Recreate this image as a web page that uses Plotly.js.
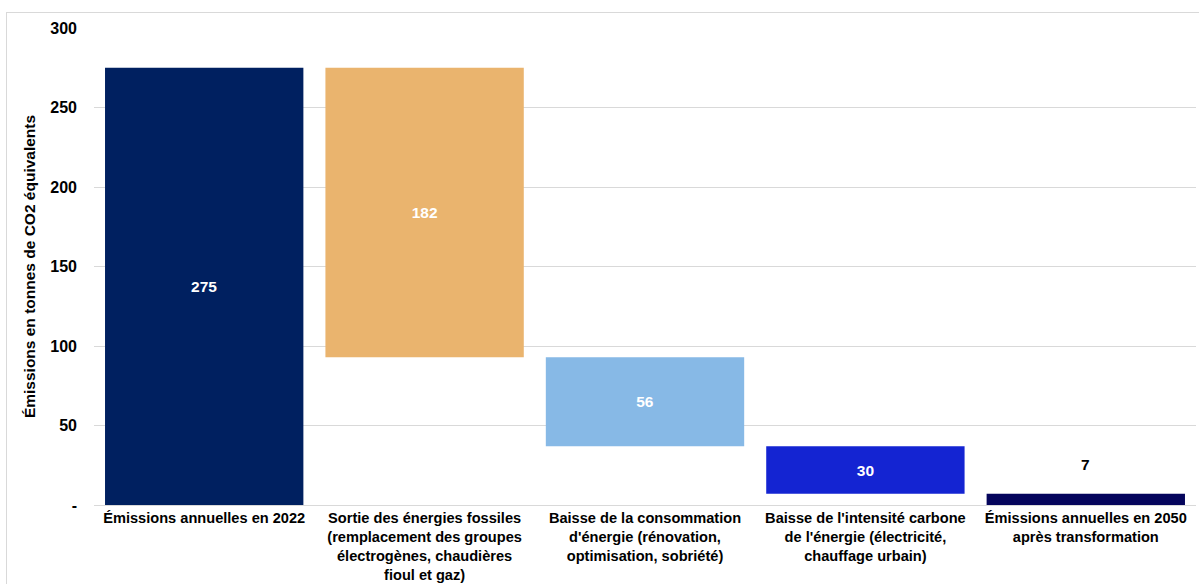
<!DOCTYPE html>
<html>
<head>
<meta charset="utf-8">
<script src="https://cdn.plot.ly/plotly-3.0.1.min.js"></script>
<style>
  html, body { margin: 0; padding: 0; background: #fff; }
  #wrap { position: relative; width: 1199px; height: 584px; overflow: hidden; }
  #chart { position: absolute; left: 0; top: 0; width: 1199px; height: 584px; }
  #frame { position: absolute; left: 6px; top: 12px; width: 1300px; height: 700px;
           border-left: 1px solid #d9d9d9; border-top: 1px solid #d9d9d9; pointer-events: none; }
</style>
</head>
<body>
<div id="wrap">
  <div id="chart"></div>
  <div id="frame"></div>
</div>
<script>
const categories = [
  "Émissions annuelles en 2022",
  "Sortie des énergies fossiles<br>(remplacement des groupes<br>électrogènes, chaudières<br>fioul et gaz)",
  "Baisse de la consommation<br>d'énergie (rénovation,<br>optimisation, sobriété)",
  "Baisse de l'intensité carbone<br>de l'énergie (électricité,<br>chauffage urbain)",
  "Émissions annuelles en 2050<br>après transformation"
];
const values = [275, 182, 56, 30, 7];
const kinds = ["total", "decrease", "decrease", "decrease", "total"];
const barColors = ["#002060", "#EAB46E", "#87B9E6", "#1424D2", "#05055C"];
const labelColors = ["#ffffff", "#ffffff", "#ffffff", "#ffffff", "#000000"];
const insideLabel = [true, true, true, true, false];
const yTickVals = [0, 50, 100, 150, 200, 250, 300];
const yTickText = ["-", "50", "100", "150", "200", "250", "300"];

// compute bar bases from the waterfall logic
const bases = [];
const heights = [];
let running = 0;
for (let i = 0; i < values.length; i++) {
  if (kinds[i] === "total") {
    bases.push(0);
    heights.push(values[i]);
    running = values[i];
  } else {
    running -= values[i];
    bases.push(running);
    heights.push(values[i]);
  }
}

const FONT = "Liberation Sans, Arial, sans-serif";
const FS = 15.5;

const trace = {
  type: "bar",
  x: categories,
  y: heights,
  base: bases,
  marker: { color: barColors, line: { width: 0 } },
  width: 0.9,
  text: values.map((v, i) => insideLabel[i] ? String(v) : ""),
  textposition: "inside",
  insidetextanchor: "middle",
  textfont: { family: FONT, size: FS, color: labelColors, weight: "bold" },
  constraintext: "none",
  cliponaxis: false,
  hoverinfo: "skip"
};

const annotations = [];
for (let i = 0; i < values.length; i++) {
  if (!insideLabel[i]) {
    annotations.push({
      x: categories[i],
      y: bases[i] + heights[i],
      xref: "x", yref: "y",
      text: String(values[i]),
      showarrow: false,
      yanchor: "bottom",
      yshift: 19,
      font: { family: FONT, size: FS, color: labelColors[i], weight: "bold" }
    });
  }
}

const layout = {
  width: 1199,
  height: 584,
  margin: { l: 94, r: 3, t: 28, b: 79, pad: 0 },
  paper_bgcolor: "#ffffff",
  plot_bgcolor: "#ffffff",
  showlegend: false,
  bargap: 0.1,
  font: { family: FONT, size: FS, color: "#000000", weight: "bold" },
  annotations: annotations,
  xaxis: {
    type: "category",
    showgrid: false,
    zeroline: false,
    showline: false,
    ticks: "",
    tickangle: 0,
    ticklabelstandoff: 2,
    tickfont: { family: FONT, size: 14.6, color: "#000000", weight: "bold" },
    automargin: false
  },
  yaxis: {
    range: [0, 300],
    tickvals: yTickVals,
    ticktext: yTickText,
    showgrid: true,
    gridcolor: "#d9d9d9",
    gridwidth: 1,
    zeroline: true,
    zerolinecolor: "#d9d9d9",
    zerolinewidth: 1,
    showline: false,
    ticks: "",
    ticklabelstandoff: 16,
    tickfont: { family: FONT, size: 16, color: "#000000", weight: "bold" },
    title: {
      text: "Émissions en tonnes de CO2 équivalents",
      font: { family: FONT, size: FS, color: "#000000", weight: "bold" },
      standoff: 10
    },
    automargin: false
  }
};

Plotly.newPlot("chart", [trace], layout, { displayModeBar: false, staticPlot: true });
</script>
</body>
</html>
